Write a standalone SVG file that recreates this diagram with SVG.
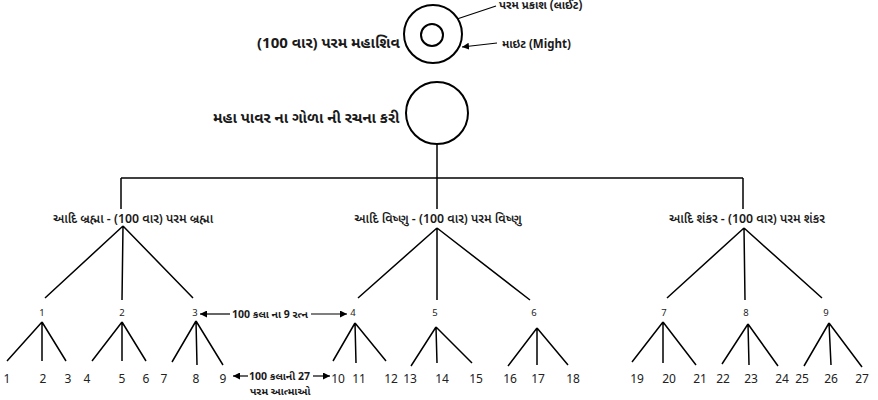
<svg xmlns="http://www.w3.org/2000/svg" width="878" height="400" viewBox="0 0 878 400">
<defs>
<marker id="ah" viewBox="0 0 10 10" refX="10" refY="5" markerWidth="7" markerHeight="7" markerUnits="userSpaceOnUse" orient="auto-start-reverse"><path d="M0,0 L10,5 L0,10 z" fill="#000"/></marker>
<style>
.ln{stroke:#000;stroke-width:1.5;fill:none}
.ci{stroke:#000;stroke-width:2;fill:#fff}
.t{font-family:"Noto Sans Gujarati","Noto Sans",sans-serif;fill:#1a1a1a}
.b14{font-size:15px;font-weight:bold}
.b11{font-size:12.3px;font-weight:600}
.b9{font-size:10.5px;font-weight:bold}
.b10{font-size:11.5px;font-weight:bold}
.n9{font-family:"Noto Sans","Liberation Sans",sans-serif;font-size:9.5px;fill:#222;text-anchor:middle}
.n12{font-family:"Noto Sans","Liberation Sans",sans-serif;font-size:12px;fill:#222;text-anchor:middle}
.ar{stroke:#000;stroke-width:1.2;fill:none;marker-end:url(#ah)}
</style>
</defs>
<rect width="878" height="400" fill="#fff"/>
<g id="connectors">
<line class="ln" x1="437" y1="144" x2="437" y2="178"/>
<line class="ln" x1="121" y1="178" x2="743" y2="178"/>
<line class="ln" x1="121" y1="178" x2="121" y2="209"/>
<line class="ln" x1="437" y1="178" x2="437" y2="209"/>
<line class="ln" x1="743" y1="178" x2="743" y2="209"/>
<path class="ln" d="M123,226 L45,298 M123,226 L122,300 M123,226 L193,298"/>
<path class="ln" d="M437,228 L358,298 M437,228 L437,300 M437,228 L530,300"/>
<path class="ln" d="M744,228 L667,298 M744,228 L745,300 M744,228 L822,298"/>
<path class="ln" d="M42,322 L7,361 M42,322 L42,361 M42,322 L66,361"/>
<path class="ln" d="M122,322 L92,361 M122,322 L122,361 M122,322 L146,361"/>
<path class="ln" d="M196,321 L172,362 M196,321 L197,365 M196,321 L223,365"/>
<path class="ln" d="M355,323 L333,361 M355,323 L356,363 M355,323 L386,361"/>
<path class="ln" d="M436,327 L411,366 M436,327 L437,363 M436,327 L472,363"/>
<path class="ln" d="M537,328 L508,366 M537,328 L537,365 M537,328 L568,365"/>
<path class="ln" d="M663,322 L632,362 M663,322 L663,363 M663,322 L696,365"/>
<path class="ln" d="M748,324 L722,364 M748,324 L749,365 M748,324 L778,366"/>
<path class="ln" d="M829,323 L804,366 M829,323 L831,365 M829,323 L862,367"/>
<line class="ar" x1="496" y1="6" x2="439" y2="25"/>
<line class="ar" x1="497" y1="43" x2="462" y2="47"/>
<line class="ar" x1="230" y1="314" x2="200" y2="314"/>
<line class="ar" x1="311" y1="314" x2="347" y2="314"/>
<line class="ar" x1="248" y1="376" x2="233" y2="376"/>
<line class="ar" x1="313" y1="376" x2="330" y2="376"/>
</g>
<g id="mahashiv">
<circle class="ci" cx="433" cy="34" r="29"/>
<circle class="ci" cx="432" cy="35" r="11"/>
<text class="t b14" x="257" y="48">(100 વાર) પરમ મહાશિવ</text>
</g>
<g id="light-label"><text class="t b10" x="499" y="9">પરમ પ્રકાશ (લાઈટ)</text></g>
<g id="might-label"><text class="t b10" x="502" y="48">માઇટ (Might)</text></g>
<g id="mahapower">
<circle class="ci" cx="437" cy="113" r="31"/>
<text class="t b14" x="213" y="123">મહા પાવર ના ગોળા ની રચના કરી</text>
</g>
<g id="brahma"><text class="t b11" x="133" y="223" text-anchor="middle">આદિ બ્રહ્મા - (100 વાર) પરમ બ્રહ્મા</text></g>
<g id="vishnu"><text class="t b11" x="438" y="223" text-anchor="middle">આદિ વિષ્ણુ - (100 વાર) પરમ વિષ્ણુ</text></g>
<g id="shankar"><text class="t b11" x="747" y="223" text-anchor="middle">આદિ શંકર - (100 વાર) પરમ શંકર</text></g>
<g id="m1"><text class="n9" x="42" y="316">1</text></g>
<g id="m2"><text class="n9" x="122" y="316">2</text></g>
<g id="m3"><text class="n9" x="195" y="316">3</text></g>
<g id="m4"><text class="n9" x="353" y="316">4</text></g>
<g id="m5"><text class="n9" x="435" y="316">5</text></g>
<g id="m6"><text class="n9" x="534" y="316">6</text></g>
<g id="m7"><text class="n9" x="664" y="316">7</text></g>
<g id="m8"><text class="n9" x="746" y="316">8</text></g>
<g id="m9"><text class="n9" x="826" y="316">9</text></g>
<g id="ratna-label"><text class="t b9" x="232" y="318">100 કલા ના 9 રત્ન</text></g>
<g id="atma-label"><text class="t b9" x="249" y="380">100 કલાની 27</text><text class="t b9" x="250" y="395">પરમ આત્માઓ</text></g>
<g id="l1"><text class="n12" x="7" y="383">1</text></g>
<g id="l2"><text class="n12" x="43" y="383">2</text></g>
<g id="l3"><text class="n12" x="68" y="383">3</text></g>
<g id="l4"><text class="n12" x="87" y="383">4</text></g>
<g id="l5"><text class="n12" x="122" y="383">5</text></g>
<g id="l6"><text class="n12" x="146" y="383">6</text></g>
<g id="l7"><text class="n12" x="164" y="383">7</text></g>
<g id="l8"><text class="n12" x="196" y="383">8</text></g>
<g id="l9"><text class="n12" x="223" y="383">9</text></g>
<g id="l10"><text class="n12" x="338" y="383">10</text></g>
<g id="l11"><text class="n12" x="359" y="383">11</text></g>
<g id="l12"><text class="n12" x="391" y="383">12</text></g>
<g id="l13"><text class="n12" x="410" y="383">13</text></g>
<g id="l14"><text class="n12" x="442" y="383">14</text></g>
<g id="l15"><text class="n12" x="476" y="383">15</text></g>
<g id="l16"><text class="n12" x="510" y="383">16</text></g>
<g id="l17"><text class="n12" x="538" y="383">17</text></g>
<g id="l18"><text class="n12" x="573" y="383">18</text></g>
<g id="l19"><text class="n12" x="637" y="383">19</text></g>
<g id="l20"><text class="n12" x="669" y="383">20</text></g>
<g id="l21"><text class="n12" x="700" y="383">21</text></g>
<g id="l22"><text class="n12" x="723" y="383">22</text></g>
<g id="l23"><text class="n12" x="751" y="383">23</text></g>
<g id="l24"><text class="n12" x="782" y="383">24</text></g>
<g id="l25"><text class="n12" x="802" y="383">25</text></g>
<g id="l26"><text class="n12" x="831" y="383">26</text></g>
<g id="l27"><text class="n12" x="862" y="383">27</text></g>
</svg>
